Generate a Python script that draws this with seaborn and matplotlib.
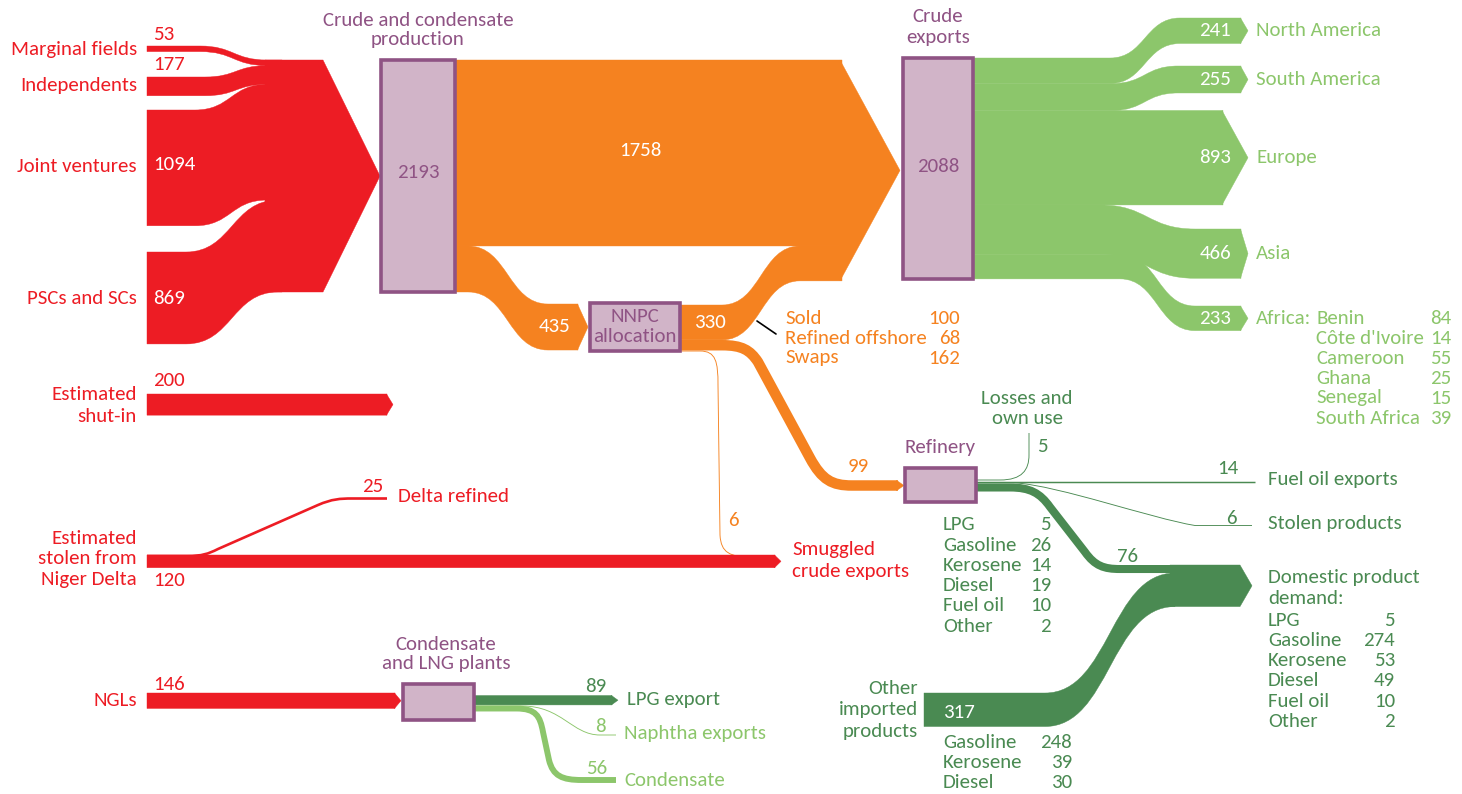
import numpy as np
import matplotlib
matplotlib.use("Agg")
import matplotlib.pyplot as plt
from matplotlib.path import Path
from matplotlib.patches import PathPatch, Polygon, Rectangle
import seaborn as sns

# Nigerian oil flows, thousand barrels per day
producer_names = ["Marginal fields", "Independents", "Joint ventures", "PSCs and SCs"]
producer_values = [53, 177, 1094, 869]
production_total = 2193
direct_exports = 1758
nnpc_allocation = 435
nnpc_exported = 330
nnpc_export_names = ["Sold", "Refined offshore", "Swaps"]
nnpc_export_values = [100, 68, 162]
nnpc_refined = 99
nnpc_smuggled = 6
crude_exports_total = 2088
region_names = ["North America", "South America", "Europe", "Asia", "Africa:"]
region_values = [241, 255, 893, 466, 233]
africa_names = ["Benin", "Côte d'Ivoire", "Cameroon", "Ghana", "Senegal", "South Africa"]
africa_values = [84, 14, 55, 25, 15, 39]
shut_in = 200
stolen_smuggled = 120
stolen_refined = 25
ngl_total = 146
ngl_out_names = ["LPG export", "Naphtha exports", "Condensate"]
ngl_out_values = [89, 8, 56]
refinery_products = ["LPG", "Gasoline", "Kerosene", "Diesel", "Fuel oil", "Other"]
refinery_values = [5, 26, 14, 19, 10, 2]
refinery_out_names = ["Losses and\nown use", "Fuel oil exports", "Stolen products", "Domestic"]
refinery_out_values = [5, 14, 6, 76]
import_total = 317
import_names = ["Gasoline", "Kerosene", "Diesel"]
import_values = [248, 39, 30]
demand_names = ["LPG", "Gasoline", "Kerosene", "Diesel", "Fuel oil", "Other"]
demand_values = [5, 274, 53, 49, 10, 2]

RED, ORANGE, LTGREEN, DKGREEN = sns.color_palette(["#ED1C24", "#F58220", "#8CC66B", "#4A8A52"])
BOX = "#D1B4C8"
PURPLE = "#8F5384"
FS = 15

sns.set_theme(style="white")
plt.rcParams["font.family"] = ["Carlito", "Lato", "DejaVu Sans"]

K = 232 / production_total  # pixels per kb/d


def band(ax, xa, ca, cb, xb, y0, y1, w, color, z=2):
    # ribbon with constant vertical width, top edge moves y0 -> y1 between ca and cb
    m = (ca + cb) / 2
    verts = [(xa, y0), (ca, y0), (m, y0), (m, y1), (cb, y1), (xb, y1),
             (xb, y1 + w), (cb, y1 + w), (m, y1 + w), (m, y0 + w), (ca, y0 + w), (xa, y0 + w), (xa, y0)]
    codes = [Path.MOVETO, Path.LINETO, Path.CURVE4, Path.CURVE4, Path.CURVE4, Path.LINETO,
             Path.LINETO, Path.LINETO, Path.CURVE4, Path.CURVE4, Path.CURVE4, Path.LINETO, Path.CLOSEPOLY]
    ax.add_patch(PathPatch(Path(verts, codes), fc=color, ec=color, lw=0.3, zorder=z))


def track(ax, segs, w, color, z=2):
    # stroked centre line for narrow flows
    verts, codes = [], []
    for s in segs:
        if s[0] == "M":
            verts.append(s[1]); codes.append(Path.MOVETO)
        elif s[0] == "L":
            verts.append(s[1]); codes.append(Path.LINETO)
        else:
            verts += list(s[1:]); codes += [Path.CURVE4] * 3
    ax.add_patch(PathPatch(Path(verts, codes), fc="none", ec=color, lw=max(w, 0.9) * 0.72,
                           capstyle="butt", joinstyle="round", zorder=z))


def tip(ax, x, y0, w, d, color):
    ax.add_patch(Polygon([(x - 0.5, y0), (x + d, y0 + w / 2), (x - 0.5, y0 + w)], closed=True,
                         fc=color, ec=color, lw=0.3, zorder=2))


def node(ax, x0, y0, x1, y1):
    ax.add_patch(Rectangle((x0, y0), x1 - x0, y1 - y0, fc=BOX, ec=PURPLE, lw=2.6, zorder=4))


def txt(ax, x, y, s, color, ha="left", size=FS):
    ax.text(x, y, s, color=color, ha=ha, va="center", fontsize=size, zorder=5)


def lines(ax, x, y, items, color, ha="left", dy=20.5):
    for i, s in enumerate(items):
        txt(ax, x, y + i * dy, s, color, ha)


fig = plt.figure(figsize=(14.62, 7.94), dpi=100)
ax = fig.add_axes([0, 0, 1, 1])
ax.set_xlim(0, 1462)
ax.set_ylim(794, 0)
ax.axis("off")

# --- producers into crude production ---
left_tops = [46, 77, 110, 252]
curve_from = [200, 205, 195, 186]
curve_to = [267, 267, 267, 278]
stack = 60 + K * np.concatenate([[0], np.cumsum(producer_values)[:-1]])
for v, y0, y1, ca, cb in zip(producer_values, left_tops, stack, curve_from, curve_to):
    band(ax, 147, ca, cb, 282, y0, y1, v * K, RED)
bottom = 60 + production_total * K
ax.add_patch(Polygon([(265, 60), (323, 60), (380, (60 + bottom) / 2), (323, bottom), (265, bottom)],
                     fc=RED, ec=RED, lw=0.3, zorder=2))
label_y = [49, 86, 166, 299]
value_y = [34, 65, 164, 299]
for i, (n, v) in enumerate(zip(producer_names, producer_values)):
    txt(ax, 137, label_y[i], n, RED, "right")
    txt(ax, 153, value_y[i], str(v), RED if v < 500 else "white")

node(ax, 381, 60, 455, bottom)
txt(ax, 418, 172, str(production_total), PURPLE, "center")
lines(ax, 418, 20, ["Crude and condensate", "production"], PURPLE, "center", 20)

# --- crude to exports ---
exp_top = 58
direct_bot = 60 + direct_exports * K
band(ax, 455, 455, 455, 842, 60, 60, direct_exports * K, ORANGE)
band(ax, 680, 722, 800, 842, 305, direct_bot, nnpc_exported * K, ORANGE)
exp_bot = 60 + crude_exports_total * K
ax.add_patch(Polygon([(840, 60), (900, (60 + exp_bot) / 2), (840, exp_bot)], fc=ORANGE, ec=ORANGE,
                     lw=0.3, zorder=2))
txt(ax, 640, 150, str(direct_exports), "white", "center")

band(ax, 455, 468, 548, 578, direct_bot, 304, nnpc_allocation * K, ORANGE)
tip(ax, 578, 304, nnpc_allocation * K, 10, ORANGE)
txt(ax, 555, 326, str(nnpc_allocation), "white", "center")

node(ax, 590, 303, 680, 351)
lines(ax, 635, 317, ["NNPC", "allocation"], PURPLE, "center", 20)
txt(ax, 710, 322, str(nnpc_exported), "white", "center")
ax.plot([757, 776], [321, 334], color="black", lw=1.2, zorder=3)
for i, (n, v) in enumerate(zip(nnpc_export_names, nnpc_export_values)):
    txt(ax, 785, 318 + 20 * i, n, ORANGE)
    txt(ax, 960, 318 + 20 * i, str(v), ORANGE, "right")

# NNPC to refinery and smuggling
w99 = nnpc_refined * K
c99 = 340 + w99 / 2
track(ax, [("M", (680, c99)), ("L", (722, c99)), ("C", (742, c99), (750, 350), (758, 362)),
           ("L", (810, 458)), ("C", (822, 480), (832, 485.5), (852, 485.5)), ("L", (898, 485.5))],
      w99, ORANGE)
tip(ax, 897, 485.5 - w99 / 2, w99, 7, ORANGE)
txt(ax, 858, 467, str(nnpc_refined), ORANGE, "center")
track(ax, [("M", (680, 351)), ("L", (700, 351)), ("C", (716, 351), (718, 362), (718, 385)),
           ("L", (720, 535)), ("C", (721, 553), (730, 557), (752, 557)), ("L", (776, 557))],
      nnpc_smuggled * K, ORANGE)
txt(ax, 733, 520, str(nnpc_smuggled), ORANGE, "center")

node(ax, 903, exp_top, 973, exp_top + crude_exports_total * K)
txt(ax, 938, 166, str(crude_exports_total), PURPLE, "center")
lines(ax, 938, 17, ["Crude", "exports"], PURPLE, "center", 21)

# --- export destinations ---
src = exp_top + K * np.concatenate([[0], np.cumsum(region_values)[:-1]])
tgt = [18, 66, src[2], 229, 306]
curve_a = [1110, 1112, 1150, 1100, 1120]
curve_b = [1180, 1178, 1160, 1195, 1195]
for i, (n, v) in enumerate(zip(region_names, region_values)):
    w = v * K
    if v > 800:
        band(ax, 973, curve_a[i], curve_b[i], 1223, src[i], tgt[i], w, LTGREEN)
        ax.add_patch(Polygon([(1222, tgt[i]), (1248, tgt[i] + w / 2), (1222, tgt[i] + w)],
                             fc=LTGREEN, ec=LTGREEN, lw=0.3, zorder=2))
    else:
        band(ax, 973, curve_a[i], curve_b[i], 1241, src[i], tgt[i], w, LTGREEN)
        tip(ax, 1241, tgt[i], w, 7, LTGREEN)
    mid = tgt[i] + w / 2
    txt(ax, 1231, mid, str(v), "white", "right")
    txt(ax, 1256, mid, n, LTGREEN)
for i, (n, v) in enumerate(zip(africa_names, africa_values)):
    txt(ax, 1316, 318 + 20 * i, n, LTGREEN)
    txt(ax, 1451, 318 + 20 * i, str(v), LTGREEN, "right")

# --- shut-in and theft ---
band(ax, 147, 147, 147, 387, 394, 394, shut_in * K, RED)
tip(ax, 387, 394, shut_in * K, 6, RED)
lines(ax, 137, 395, ["Estimated", "shut-in"], RED, "right", 21)
txt(ax, 153, 381, str(shut_in), RED)

band(ax, 147, 147, 147, 775, 555, 555, stolen_smuggled * K, RED)
tip(ax, 775, 555, stolen_smuggled * K, 6, RED)
track(ax, [("M", (147, 556)), ("L", (187, 556)), ("C", (202, 556), (208, 554), (218, 549)),
           ("L", (318, 505)), ("C", (332, 499), (340, 498.5), (352, 498.5)), ("L", (387, 498.5))],
      stolen_refined * K, RED)
lines(ax, 137, 538, ["Estimated", "stolen from", "Niger Delta"], RED, "right", 21)
txt(ax, 153, 581, str(stolen_smuggled), RED)
txt(ax, 383, 487, str(stolen_refined), RED, "right")
txt(ax, 398, 497, "Delta refined", RED)
lines(ax, 792, 550, ["Smuggled", "crude exports"], RED, "left", 22)

# --- refinery ---
node(ax, 905, 468, 976, 502)
txt(ax, 940, 447, "Refinery", PURPLE, "center")
losses, fuel_exp, stolen_prod, domestic = refinery_out_values
track(ax, [("M", (976, 480)), ("L", (1000, 480)), ("C", (1022, 480), (1029, 470), (1029, 455)),
           ("L", (1029, 433))], losses * K, DKGREEN)
track(ax, [("M", (976, 481.5)), ("L", (1255, 481.5))], fuel_exp * K, DKGREEN)
track(ax, [("M", (976, 482.8)), ("L", (1015, 482.8)), ("C", (1060, 486), (1150, 518), (1195, 525.5)),
           ("L", (1252, 525.5))], stolen_prod * K, DKGREEN)
wd = domestic * K
cd = 565 + wd / 2
track(ax, [("M", (976, 487.5)), ("L", (1010, 487.5)), ("C", (1030, 487.5), (1040, 493), (1050, 507)),
           ("L", (1085, 552)), ("C", (1095, 566), (1104, cd), (1120, cd)), ("L", (1172, cd))], wd, DKGREEN)
lines(ax, 1027, 398, ["Losses and", "own use"], DKGREEN, "center", 21)
txt(ax, 1042, 447, str(losses), DKGREEN, "center")
txt(ax, 1238, 469, str(fuel_exp), DKGREEN, "right")
txt(ax, 1268, 480, "Fuel oil exports", DKGREEN)
txt(ax, 1237, 518, str(stolen_prod), DKGREEN, "right")
txt(ax, 1268, 523, "Stolen products", DKGREEN)
txt(ax, 1128, 556, str(domestic), DKGREEN, "center")
for i, (n, v) in enumerate(zip(refinery_products, refinery_values)):
    txt(ax, 943, 525 + 20.2 * i, n, DKGREEN)
    txt(ax, 1051, 525 + 20.2 * i, str(v), DKGREEN, "right")

# imports into domestic demand
band(ax, 924, 1045, 1175, 1175, 693, 565 + wd, import_total * K, DKGREEN)
dom_bot = 565 + (domestic + import_total) * K
ax.add_patch(Polygon([(1170, 565), (1240, 565), (1252, (565 + dom_bot) / 2), (1240, dom_bot), (1170, dom_bot)],
                     fc=DKGREEN, ec=DKGREEN, lw=0.3, zorder=2))
lines(ax, 918, 688, ["Other", "imported", "products"], DKGREEN, "right", 22)
txt(ax, 943, 712, str(import_total), "white")
for i, (n, v) in enumerate(zip(import_names, import_values)):
    txt(ax, 943, 742 + 20.5 * i, n, DKGREEN)
    txt(ax, 1072, 742 + 20.5 * i, str(v), DKGREEN, "right")
lines(ax, 1268, 577, ["Domestic product", "demand:"], DKGREEN, "left", 21)
for i, (n, v) in enumerate(zip(demand_names, demand_values)):
    txt(ax, 1268, 620 + 20.3 * i, n, DKGREEN)
    txt(ax, 1395, 620 + 20.3 * i, str(v), DKGREEN, "right")

# --- NGLs ---
band(ax, 147, 147, 147, 395, 693, 693, ngl_total * K, RED)
tip(ax, 395, 693, ngl_total * K, 6, RED)
txt(ax, 137, 701, "NGLs", RED, "right")
txt(ax, 153, 684, str(ngl_total), RED)
node(ax, 403, 684, 474, 720)
lines(ax, 446, 644, ["Condensate", "and LNG plants"], PURPLE, "center", 20)
lpg, naphtha, cond = ngl_out_values
band(ax, 474, 474, 474, 612, 695.5, 695.5, lpg * K, DKGREEN)
tip(ax, 612, 695.5, lpg * K, 6, DKGREEN)
track(ax, [("M", (474, 706)), ("L", (522, 706)), ("C", (562, 706), (572, 735), (600, 735)), ("L", (616, 735))],
      naphtha * K, LTGREEN)
wc = cond * K
track(ax, [("M", (474, 708.5)), ("L", (516, 708.5)), ("C", (536, 708.5), (540, 716), (543, 732)),
           ("L", (549, 760)), ("C", (553, 776), (562, 780), (582, 780)), ("L", (616, 780))], wc, LTGREEN)
txt(ax, 606, 686, str(lpg), DKGREEN, "right")
txt(ax, 627, 699, ngl_out_names[0], DKGREEN)
txt(ax, 606, 726, str(naphtha), LTGREEN, "right")
txt(ax, 624, 734, ngl_out_names[1], LTGREEN)
txt(ax, 607, 768, str(cond), LTGREEN, "right")
txt(ax, 624, 780, ngl_out_names[2], LTGREEN)

fig.savefig("out.png", dpi=100, facecolor="white")
